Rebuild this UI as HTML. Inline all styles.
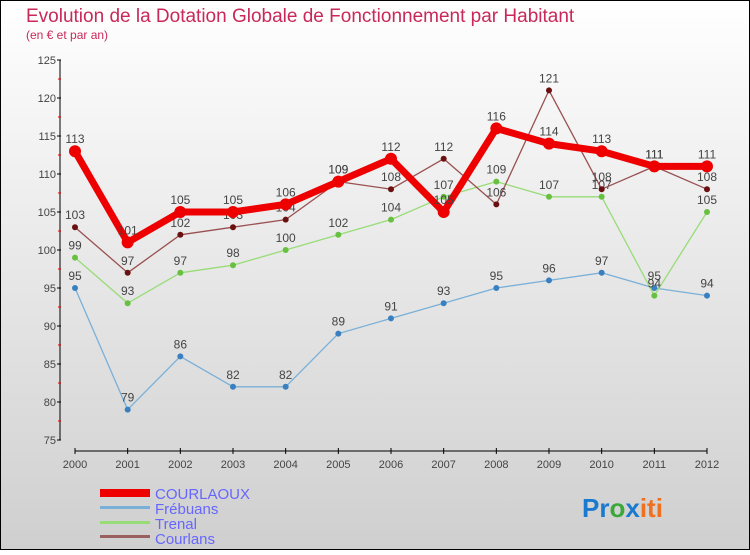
<!DOCTYPE html>
<html><head><meta charset="utf-8"><style>
body{margin:0;width:750px;height:550px;overflow:hidden}
svg text{font-family:"Liberation Sans",sans-serif}
</style></head><body>
<svg id="c" width="750" height="550">
<defs><linearGradient id="bg" x1="0" y1="0" x2="0" y2="1"><stop offset="0" stop-color="#ffffff"/><stop offset="1" stop-color="#cfcfcf"/></linearGradient></defs>
<rect x="0.5" y="0.5" width="749" height="549" fill="url(#bg)" stroke="#000"/>
<text x="26" y="22" font-size="19" fill="#c8285a">Evolution de la Dotation Globale de Fonctionnement par Habitant</text>
<text x="26" y="39" font-size="12" fill="#c8285a">(en € et par an)</text>
<g id="axes"></g><g id="series"></g>
<g>
<rect x="100" y="489" width="50" height="8" fill="#e00"/>
<text x="155" y="499" font-size="15" fill="#6666ff">COURLAOUX</text>
<rect x="100" y="506" width="50" height="3" fill="#7ab0d8"/>
<text x="155" y="514" font-size="15" fill="#6666ff">Frébuans</text>
<rect x="100" y="521" width="50" height="3" fill="#98dc78"/>
<text x="155" y="529" font-size="15" fill="#6666ff">Trenal</text>
<rect x="100" y="535" width="50" height="3" fill="#9a6060"/>
<text x="155" y="544" font-size="15" fill="#6666ff">Courlans</text>
</g>
<text x="582" y="517" font-size="26" font-weight="bold"><tspan fill="#1a7ad0">Pr</tspan><tspan fill="#3aa83a">o</tspan><tspan fill="#1a7ad0">x</tspan><tspan fill="#f07020">iti</tspan></text>
</svg>
<script>
const years=[2000,2001,2002,2003,2004,2005,2006,2007,2008,2009,2010,2011,2012];
const yTicks=[75,80,85,90,95,100,105,110,115,120,125];
const courlaoux=[113,101,105,105,106,109,112,105,116,114,113,111,111];
const frebuans=[95,79,86,82,82,89,91,93,95,96,97,95,94];
const trenal=[99,93,97,98,100,102,104,107,109,107,107,94,105];
const courlans=[103,97,102,103,104,109,108,112,106,121,108,111,108];
const NS="http://www.w3.org/2000/svg";
const X=i=>75+i*(707-75)/(years.length-1);
const Y=v=>440-(v-75)*(380/50);
function mk(t,a,p){const e=document.createElementNS(NS,t);for(const k in a)e.setAttribute(k,a[k]);p.appendChild(e);return e;}
const ax=document.getElementById('axes');
let l=mk('line',{x1:60,y1:60,x2:60,y2:440,stroke:'#000'},ax);


l=mk('line',{x1:75,y1:451,x2:707,y2:451,stroke:'#000'},ax);


yTicks.forEach((v,i)=>{
 mk('line',{x1:57,y1:Y(v),x2:61,y2:Y(v),stroke:'#000'},ax);
 if(i<yTicks.length-1)mk('line',{x1:58,y1:Y(v+2.5),x2:61,y2:Y(v+2.5),stroke:'#d00'},ax);
 mk('line',{x1:61,y1:Y(v),x2:740,y2:Y(v),stroke:'#fff','stroke-opacity':0.0},ax);
 const t=mk('text',{x:56,y:Y(v)+4,'font-size':11,'text-anchor':'end',fill:'#444'},ax);t.textContent=v;
 
 
});
years.forEach((y,i)=>{
 mk('line',{x1:X(i),y1:448,x2:X(i),y2:454,stroke:'#000'},ax);
 const t=mk('text',{x:X(i),y:468,'font-size':11,'text-anchor':'middle',fill:'#444'},ax);t.textContent=y;
 
 
});
const sg=document.getElementById('series');
function draw(data,name,color,w,r,dot){
 const g=mk('g',{},sg);
 
 
 const p=mk('polyline',{points:data.map((v,i)=>X(i)+','+Y(v)).join(' '),fill:'none',stroke:color,'stroke-width':w,'stroke-linejoin':'round'},g);
 
 
 data.forEach((v,i)=>{
  const c=mk('circle',{cx:X(i),cy:Y(v),r:r,fill:dot},g);
  
  
  const t=mk('text',{x:X(i),y:Y(v)-8,'font-size':12,'text-anchor':'middle',fill:'#444'},g);t.textContent=v;
  
  
 });
}
draw(frebuans,'frebuans','#7ab0d8',1.3,3,'#3a80c0');
draw(trenal,'trenal','#98dc78',1.3,3,'#68c040');
draw(courlans,'courlans','#9a5050',1.3,3,'#6a1010');
draw(courlaoux,'courlaoux','#ee0000',7,6,'#ee0000');
</script>
</body></html>
